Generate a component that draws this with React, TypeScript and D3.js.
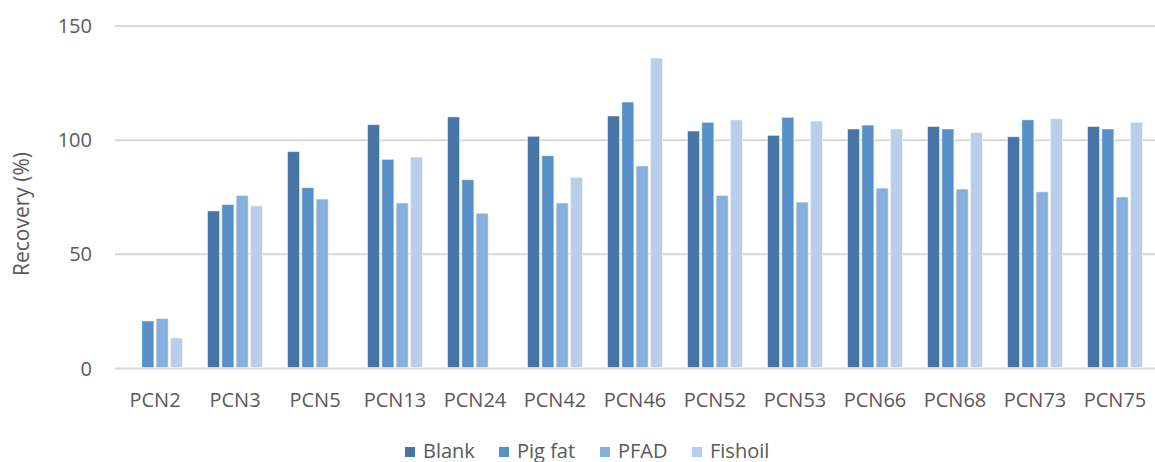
import React from 'react';
import * as d3 from 'd3';

const categories = ['PCN2', 'PCN3', 'PCN5', 'PCN13', 'PCN24', 'PCN42', 'PCN46', 'PCN52', 'PCN53', 'PCN66', 'PCN68', 'PCN73', 'PCN75'];
const seriesNames = ['Blank', 'Pig fat', 'PFAD', 'Fishoil'];
const blank = [null, 69, 95, 106.8, 110.2, 101.7, 110.6, 104, 102.1, 104.9, 106, 101.5, 106];
const pigFat = [20.8, 71.8, 79.2, 91.6, 82.7, 93.2, 116.7, 107.8, 110, 106.6, 104.9, 108.9, 104.9];
const pfad = [21.9, 75.8, 74.2, 72.5, 68, 72.5, 88.7, 75.8, 72.9, 79, 78.6, 77.4, 75.1];
const fishoil = [13.4, 71.3, null, 92.6, null, 83.7, 136, 108.9, 108.4, 104.9, 103.3, 109.4, 107.8];
const yTicks = [0, 50, 100, 150];

const colors = ['#4675a6', '#5591c8', '#87afdc', '#b9cfe9'];
const seriesValues = [blank, pigFat, pfad, fishoil];

const W = 1155;
const H = 462;
const left = 115;
const right = 1155;
const top = 26;
const bottom = 368.5;
const font = '"Open Sans", sans-serif';
const textColor = '#595959';

export default function App() {
  const x = d3.scaleBand<string>().domain(categories).range([left, right]).paddingInner(0).paddingOuter(0);
  const inner = d3.scaleBand<string>().domain(seriesNames).range([12.5, x.bandwidth() - 12.5]).paddingInner(0.16);
  const y = d3.scaleLinear().domain([0, 150]).range([bottom, top]);

  const legendX = [405, 499, 600, 692];

  return (
    <svg width={W} height={H} style={{ position: 'absolute', left: 0, top: 0, background: '#fff' }}>
      {yTicks.map(t => (
        <g key={t}>
          <line x1={left} x2={right} y1={y(t)} y2={y(t)} stroke="#d9d9d9" strokeWidth={2} />
          <text x={92} y={y(t)} dy="0.35em" textAnchor="end" fontFamily={font} fontSize={20} fill={textColor}>{t}</text>
        </g>
      ))}
      {seriesValues.map((vals, si) => (
        <g key={si}>
          {vals.map((v, ci) => v == null ? null : (
            <rect
              key={ci}
              x={(x(categories[ci]) || 0) + (inner(seriesNames[si]) || 0)}
              y={y(v)}
              width={inner.bandwidth()}
              height={y(0) - y(v) - 1}
              fill={colors[si]}
              stroke="#ffffff"
              strokeOpacity={0.5}
              strokeWidth={1}
            />
          ))}
        </g>
      ))}
      {categories.map(c => (
        <text key={c} x={(x(c) || 0) + x.bandwidth() / 2} y={407} textAnchor="middle" fontFamily={font} fontSize={20} fill={textColor}>{c}</text>
      ))}
      <text transform={`translate(29,214) rotate(-90)`} textAnchor="middle" fontFamily={font} fontSize={21} fill={textColor}>Recovery (%)</text>
      {seriesNames.map((s, i) => (
        <g key={s}>
          <rect x={legendX[i]} y={447} width={10} height={10} fill={colors[i]} />
          <text x={legendX[i] + 18} y={458} fontFamily={font} fontSize={20} fill={textColor}>{s}</text>
        </g>
      ))}
    </svg>
  );
}
